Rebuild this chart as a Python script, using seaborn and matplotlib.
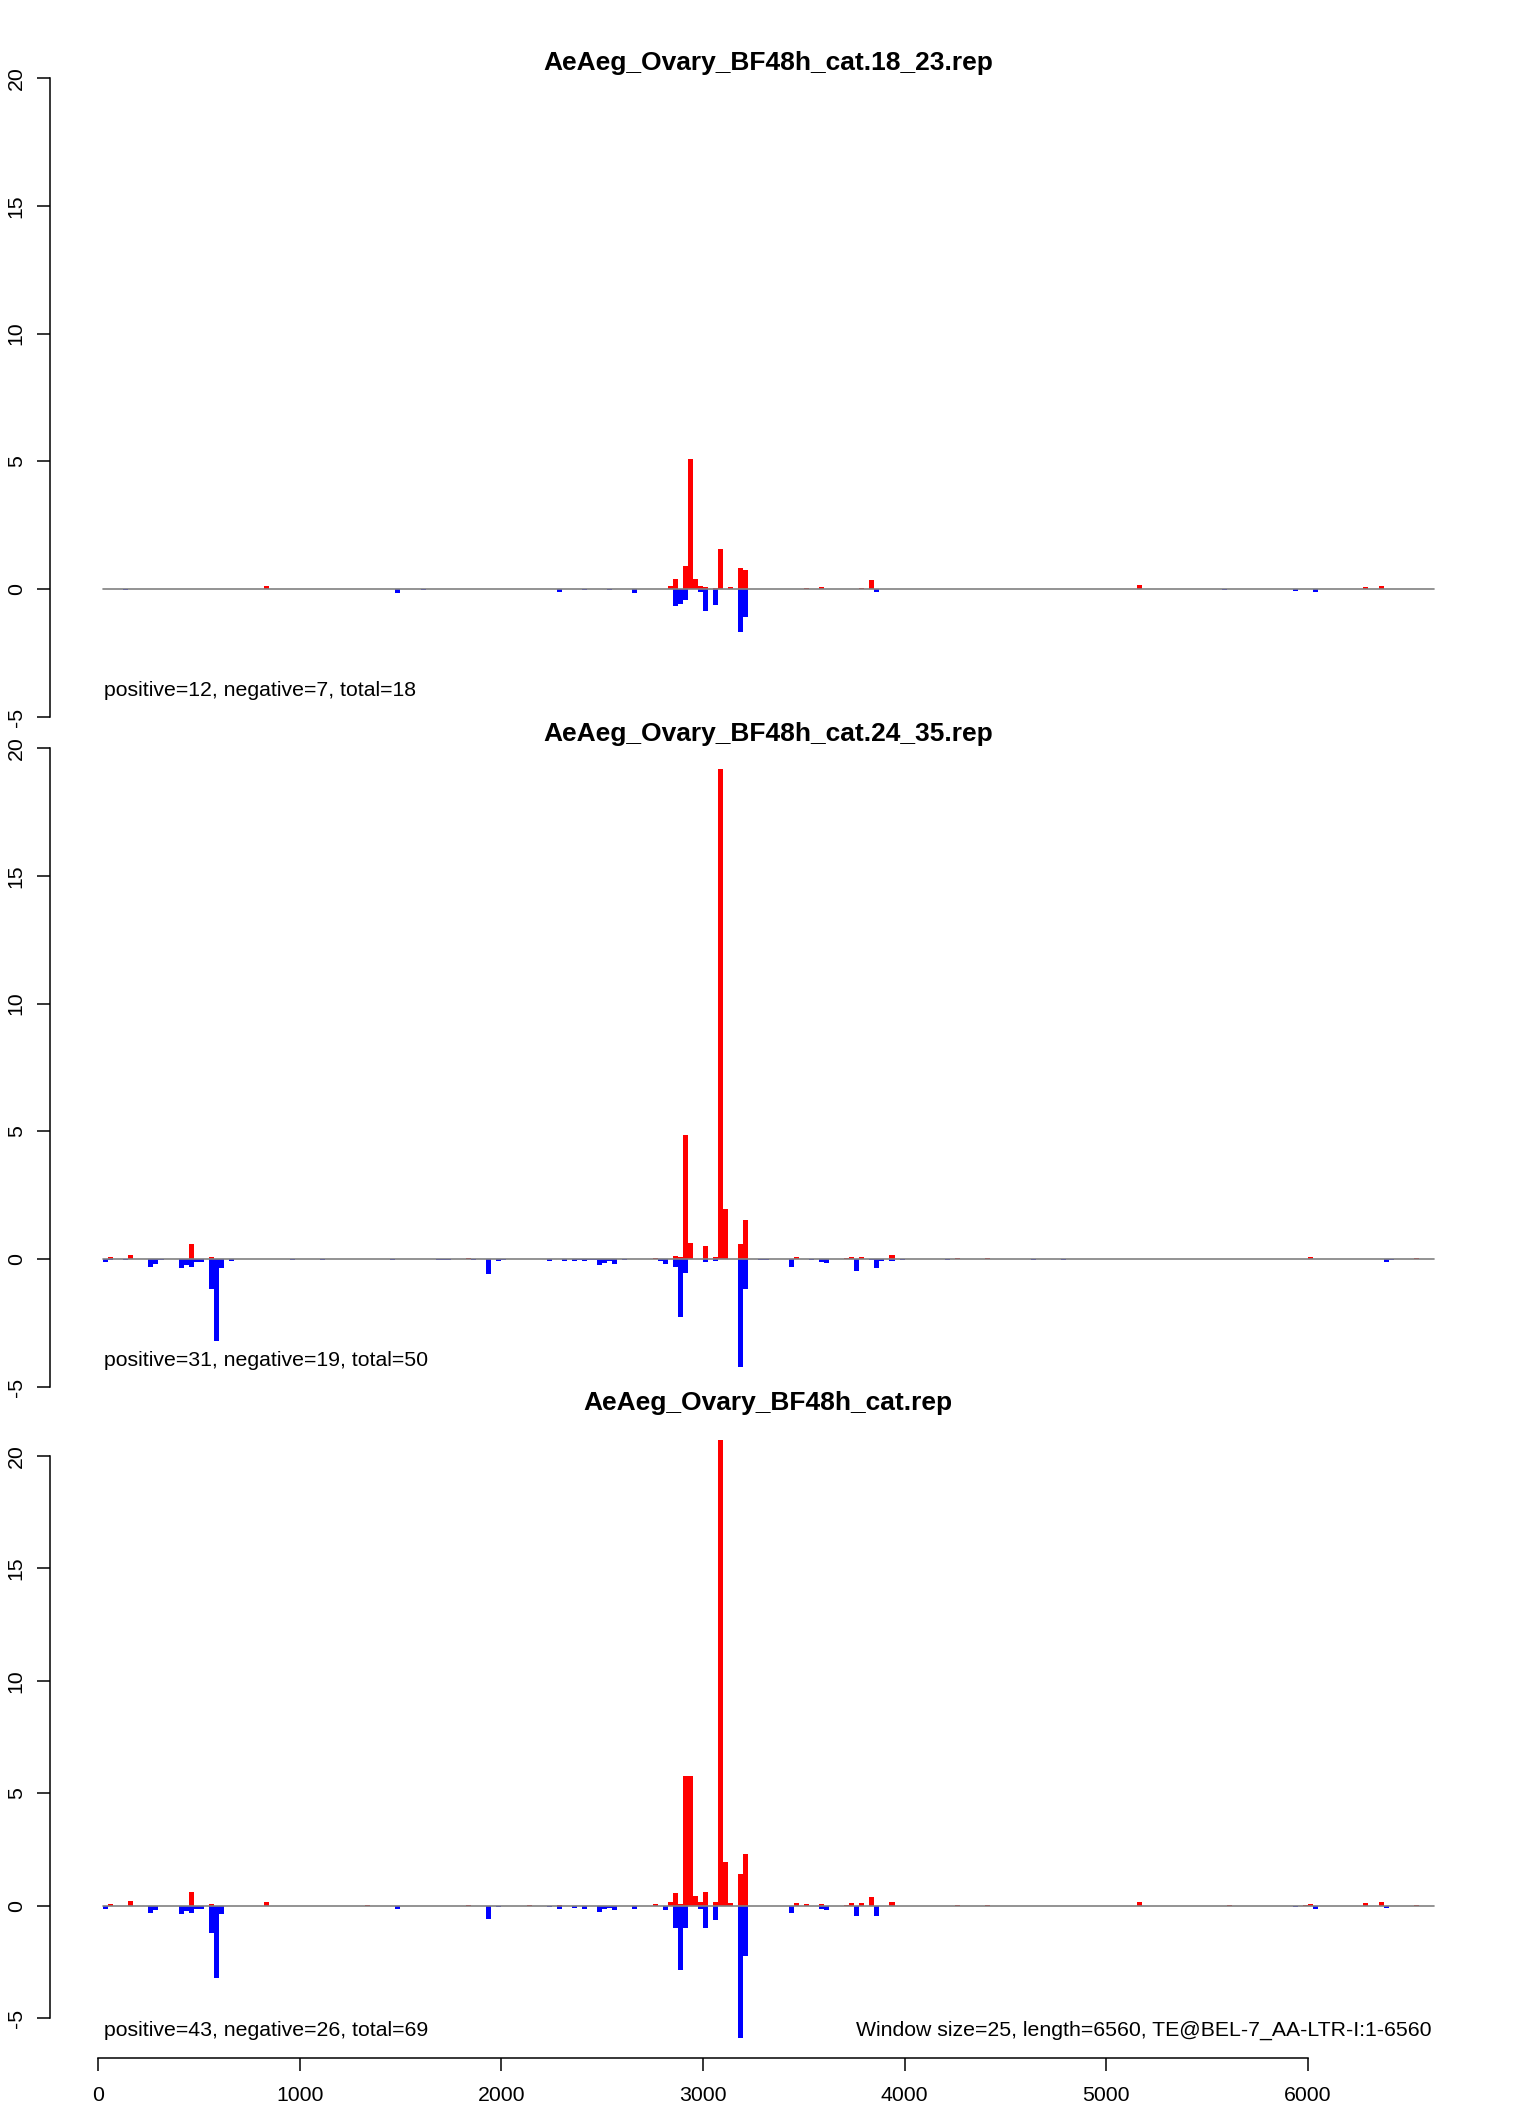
import numpy as np
import matplotlib
matplotlib.use("Agg")
import matplotlib.pyplot as plt
import seaborn as sns

# ---------------- data (bin index -> window start = index * WINDOW) ----------------
WINDOW = 25
SEQ_LEN = 6560

TITLES = ["AeAeg_Ovary_BF48h_cat.18_23.rep",
          "AeAeg_Ovary_BF48h_cat.24_35.rep",
          "AeAeg_Ovary_BF48h_cat.rep"]
STATS = ["positive=12, negative=7, total=18",
         "positive=31, negative=19, total=50",
         "positive=43, negative=26, total=69"]
INFO = "Window size=25, length=6560, TE@BEL-7_AA-LTR-I:1-6560"

# panel 1: 18-23 nt
P1_POS_BIN = [33, 85, 113, 114, 116, 117, 118, 119, 120, 122, 123, 125, 127, 128,
              140, 143, 151, 153, 206, 224, 239, 251, 254]
P1_POS_VAL = [0.13, 0.02, 0.14, 0.40, 0.91, 5.10, 0.40, 0.14, 0.09, 0.05, 1.58, 0.09,
              0.83, 0.76, 0.05, 0.09, 0.05, 0.37, 0.17, 0.02, 0.02, 0.09, 0.13]
P1_NEG_BIN = [5, 59, 64, 91, 96, 101, 106, 114, 115, 116, 119, 120, 122, 127, 128,
              154, 223, 237, 241]
P1_NEG_VAL = [-0.03, -0.13, -0.03, -0.09, -0.03, -0.03, -0.13, -0.64, -0.56, -0.44,
              -0.09, -0.87, -0.60, -1.66, -1.07, -0.10, -0.02, -0.07, -0.10]

# panel 2: 24-35 nt
P2_POS_BIN = [2, 6, 18, 22, 53, 73, 110, 114, 115, 116, 117, 120, 122, 123, 124, 127,
              128, 138, 148, 149, 151, 157, 170, 176, 240, 261]
P2_POS_VAL = [0.07, 0.18, 0.61, 0.07, 0.02, 0.03, 0.06, 0.14, 0.10, 4.84, 0.65, 0.50,
              0.10, 19.17, 1.95, 0.61, 1.52, 0.10, 0.03, 0.10, 0.07, 0.18, 0.03, 0.03,
              0.07, 0.03]
P2_NEG_BIN = [1, 2, 5, 10, 11, 12, 16, 17, 18, 19, 20, 22, 23, 24, 26, 38, 44, 58, 67,
              68, 69, 74, 77, 79, 80, 89, 92, 94, 95, 96, 97, 98, 99, 100, 101, 102, 104,
              111, 112, 114, 115, 116, 120, 122, 127, 128, 131, 132, 137, 141, 143, 144,
              150, 153, 154, 155, 157, 159, 168, 185, 191, 255, 256]
P2_NEG_VAL = [-0.12, -0.04, -0.04, -0.31, -0.20, -0.04, -0.35, -0.23, -0.31, -0.12,
              -0.12, -1.17, -3.21, -0.35, -0.08, -0.03, -0.03, -0.03, -0.04, -0.04,
              -0.04, -0.04, -0.59, -0.08, -0.04, -0.08, -0.08, -0.08, -0.04, -0.08,
              -0.04, -0.04, -0.23, -0.16, -0.08, -0.20, -0.04, -0.05, -0.19, -0.32,
              -2.27, -0.54, -0.11, -0.05, -4.23, -1.18, -0.04, -0.04, -0.31, -0.04,
              -0.12, -0.16, -0.47, -0.04, -0.35, -0.08, -0.08, -0.04, -0.04, -0.04,
              -0.04, -0.09, -0.04]

# panel 3: all
P3_POS_BIN = [2, 6, 18, 22, 33, 53, 73, 85, 91, 110, 113, 114, 115, 116, 117, 118, 119,
              120, 122, 123, 124, 125, 127, 128, 138, 140, 143, 148, 149, 151, 153, 157,
              170, 176, 206, 224, 239, 240, 251, 254, 261]
P3_POS_VAL = [0.07, 0.21, 0.61, 0.07, 0.16, 0.02, 0.04, 0.04, 0.03, 0.07, 0.16, 0.56,
              0.07, 5.77, 5.77, 0.44, 0.16, 0.62, 0.16, 20.73, 1.96, 0.13, 1.42, 2.30,
              0.12, 0.07, 0.07, 0.03, 0.12, 0.12, 0.39, 0.16, 0.03, 0.03, 0.16, 0.02,
              0.02, 0.07, 0.12, 0.16, 0.03]
P3_NEG_BIN = [1, 2, 5, 10, 11, 12, 16, 17, 18, 19, 20, 22, 23, 24, 26, 38, 44, 58, 59,
              64, 67, 68, 69, 74, 77, 79, 80, 89, 91, 92, 94, 95, 96, 97, 98, 99, 100,
              101, 102, 104, 106, 111, 112, 114, 115, 116, 119, 120, 122, 127, 128, 131,
              132, 137, 141, 143, 144, 150, 153, 154, 155, 157, 159, 168, 185, 191, 223,
              237, 241, 255, 256]
P3_NEG_VAL = [-0.13, -0.04, -0.04, -0.31, -0.18, -0.04, -0.36, -0.22, -0.31, -0.13,
              -0.13, -1.20, -3.20, -0.36, -0.04, -0.04, -0.04, -0.04, -0.13, -0.04,
              -0.04, -0.04, -0.04, -0.04, -0.58, -0.06, -0.04, -0.06, -0.13, -0.04,
              -0.09, -0.04, -0.13, -0.04, -0.04, -0.27, -0.13, -0.09, -0.18, -0.04,
              -0.13, -0.04, -0.18, -1.00, -2.85, -1.00, -0.13, -1.00, -0.64, -5.88,
              -2.23, -0.04, -0.04, -0.31, -0.04, -0.13, -0.18, -0.45, -0.04, -0.45,
              -0.04, -0.04, -0.04, -0.04, -0.04, -0.04, -0.04, -0.06, -0.13, -0.09,
              -0.04]

Y_TICKS = [-5, 0, 5, 10, 15, 20]
X_TICKS = [0, 1000, 2000, 3000, 4000, 5000, 6000]

# ---------------- layout ----------------
W, H = 1536, 2112
sns.set_theme(style="ticks")
plt.rcParams["font.family"] = ["Liberation Sans", "DejaVu Sans"]
plt.rcParams["axes.unicode_minus"] = False
for key in ("text.color", "axes.labelcolor", "xtick.color", "ytick.color",
            "axes.edgecolor"):
    plt.rcParams[key] = "black"

fig = plt.figure(figsize=(W / 100, H / 100), dpi=100)
fig.patch.set_facecolor("white")

X_LEFT_PX, X_RIGHT_PX = 50, 1486
XLIM = (-238, 6883)
FS = 15.3
TITLE_FS = 19

panels = [
    dict(pos=(P1_POS_BIN, P1_POS_VAL), neg=(P1_NEG_BIN, P1_NEG_VAL), ylim=(-6, 21),
         top=52.4, bottom=742.6, title_y=63, stat_y=690),
    dict(pos=(P2_POS_BIN, P2_POS_VAL), neg=(P2_NEG_BIN, P2_NEG_VAL), ylim=(-6, 21),
         top=722.4, bottom=1412.6, title_y=734, stat_y=1360),
    dict(pos=(P3_POS_BIN, P3_POS_VAL), neg=(P3_NEG_BIN, P3_NEG_VAL), ylim=(-6.78, 21.79),
         top=1415.8, bottom=2058, title_y=1403, stat_y=2030),
]

for i, p in enumerate(panels):
    ax = fig.add_axes([X_LEFT_PX / W, 1 - p["bottom"] / H,
                       (X_RIGHT_PX - X_LEFT_PX) / W, (p["bottom"] - p["top"]) / H])
    ax.set_facecolor("none")
    for (bins, vals), col in ((p["pos"], "#FF0000"), (p["neg"], "#0000FF")):
        starts = np.asarray(bins) * WINDOW
        sns.histplot(x=starts + WINDOW / 2, weights=np.asarray(vals), binwidth=WINDOW,
                     binrange=(0, 6600), ax=ax, color=col, alpha=1, linewidth=0,
                     antialiased=False, zorder=2)
    ax.plot([WINDOW, 6625], [0, 0], color="#808080", lw=1.2, zorder=3)
    ax.set_xlim(*XLIM)
    ax.set_ylim(*p["ylim"])
    ax.set_xlabel("")
    ax.set_ylabel("")
    for s in ("top", "right"):
        ax.spines[s].set_visible(False)
    ax.spines["left"].set_bounds(-5, 20)
    ax.spines["left"].set_linewidth(1.1)
    ax.spines["left"].set_color("black")
    ax.set_yticks(Y_TICKS, labels=[str(t) for t in Y_TICKS], rotation=90, va="center")
    ax.tick_params(axis="y", length=9.5, width=1.1, pad=8, labelsize=FS, colors="black")
    if i < 2:
        ax.spines["bottom"].set_visible(False)
        ax.set_xticks([])
    else:
        ax.spines["bottom"].set_bounds(0, 6000)
        ax.spines["bottom"].set_linewidth(1.1)
        ax.spines["bottom"].set_color("black")
        ax.set_xticks(X_TICKS, labels=[str(t) for t in X_TICKS])
        ax.tick_params(axis="x", length=9.5, width=1.1, pad=11, labelsize=FS, colors="black")

    fig.text(768 / W, 1 - p["title_y"] / H, TITLES[i], ha="center", va="center",
             fontsize=TITLE_FS, fontweight="bold", color="black")
    fig.text(104 / W, 1 - p["stat_y"] / H, STATS[i], ha="left", va="center",
             fontsize=FS, color="black")

fig.text(1431 / W, 1 - 2030 / H, INFO, ha="right", va="center", fontsize=FS, color="black")

fig.savefig("out.png", dpi=100)
